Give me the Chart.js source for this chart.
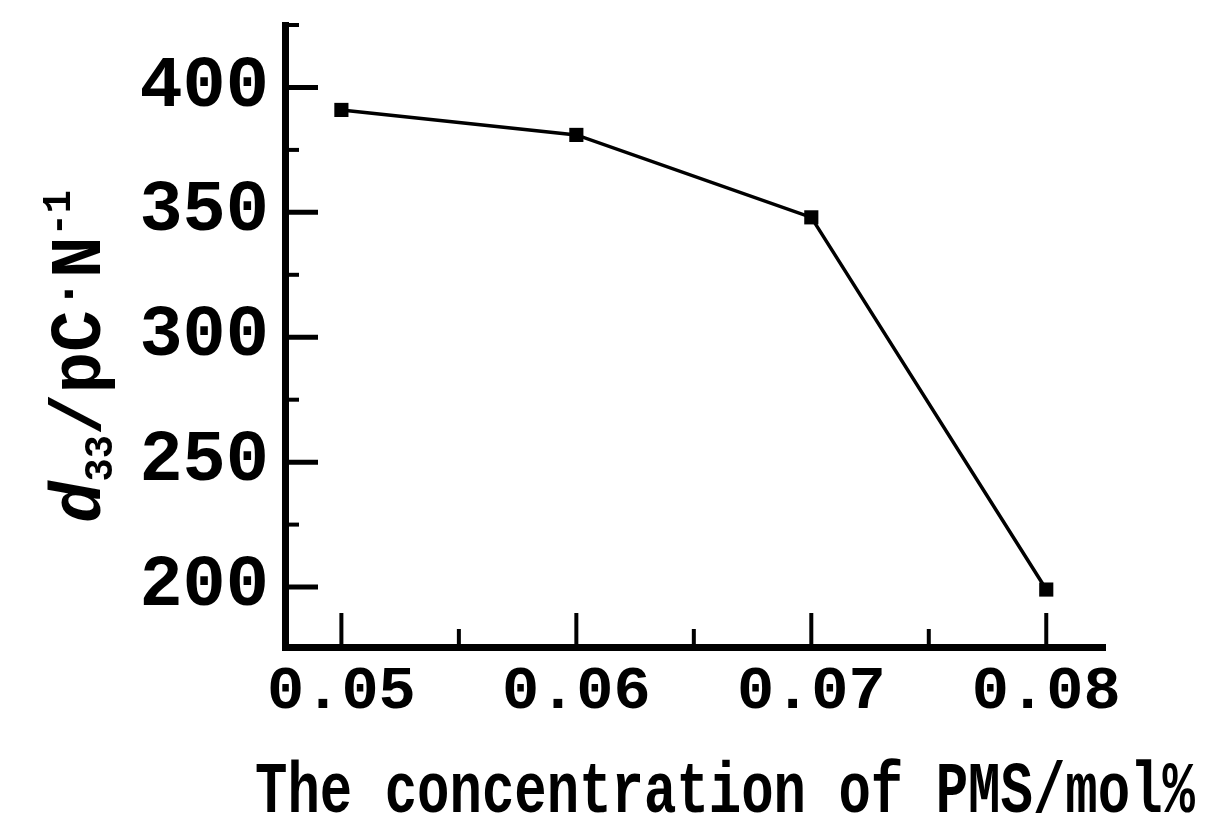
<!DOCTYPE html>
<html>
<head>
<meta charset="utf-8">
<script src="https://cdn.jsdelivr.net/npm/chart.js@4/dist/chart.umd.min.js"></script>
<style>
  html, body { margin: 0; padding: 0; background: #fff; }
  #wrap { width: 1209px; height: 837px; position: relative; }
</style>
</head>
<body>
<div id="wrap"><canvas id="c"></canvas></div>
<script>
// ---- data ----
const concentrations = [0.05, 0.06, 0.07, 0.08];
const d33Values = [391, 381, 348, 199];
const xTitle = 'The concentration of PMS/mol%';
// y title pieces: d (italic), subscript 33, /pC, dot, N, superscript -1
const yTitleParts = ['d', '33', '/pC', '\u00B7', 'N', '-1'];

const points = concentrations.map((x, i) => ({ x: x, y: d33Values[i] }));

const isMajor = (v, unit) => Math.abs(v / unit - Math.round(v / unit)) < 1e-6;
const FAM = '"Liberation Mono", "DejaVu Sans Mono", monospace';

const inwardTicks = {
  id: 'inwardTicks',
  afterDraw(chart) {
    const ctx = chart.ctx;
    const area = chart.chartArea;
    const xs = chart.scales.x, ys = chart.scales.y;
    ctx.save();
    ctx.strokeStyle = '#000';
    ctx.lineCap = 'butt';
    ys.ticks.forEach(t => {
      if (t.value < ys.min || t.value > ys.max) return;
      const p = ys.getPixelForValue(t.value);
      const major = isMajor(t.value, 50);
      ctx.lineWidth = major ? 5 : 4;
      ctx.beginPath();
      ctx.moveTo(area.left, p);
      ctx.lineTo(area.left + (major ? 33 : 14), p);
      ctx.stroke();
    });
    xs.ticks.forEach(t => {
      if (t.value < xs.min || t.value > xs.max) return;
      const p = xs.getPixelForValue(t.value);
      const major = isMajor(t.value, 0.01);
      ctx.lineWidth = 4;
      ctx.beginPath();
      ctx.moveTo(p, area.bottom);
      ctx.lineTo(p, area.bottom - (major ? 34 : 18));
      ctx.stroke();
    });
    ctx.restore();
  }
};

const axisTitles = {
  id: 'axisTitles',
  afterDraw(chart) {
    const ctx = chart.ctx;
    ctx.save();
    ctx.fillStyle = '#000';
    // x-axis title (condensed like the original typeface)
    ctx.font = 'bold 72px ' + FAM;
    ctx.textAlign = 'center';
    ctx.textBaseline = 'alphabetic';
    ctx.fillText(xTitle, 725, 812, 940);

    // y-axis title, rotated, with sub/superscripts
    const specs = [
      { font: 'italic bold 72px ' + FAM, dy: 0 },
      { font: 'bold 40px ' + FAM, dy: 12 },
      { font: 'bold 72px ' + FAM, dy: 0 },
      { font: 'bold 56px ' + FAM, dy: -16 },
      { font: 'bold 72px ' + FAM, dy: 0 },
      { font: 'bold 40px ' + FAM, dy: -30 }
    ];
    ctx.textAlign = 'left';
    let total = 0;
    const widths = yTitleParts.map((t, i) => {
      ctx.font = specs[i].font;
      const w = ctx.measureText(t).width;
      total += w;
      return w;
    });
    const k = 333 / total;
    ctx.translate(100, 523);
    ctx.rotate(-Math.PI / 2);
    ctx.scale(k, 1);
    let x = 0;
    yTitleParts.forEach((t, i) => {
      ctx.font = specs[i].font;
      ctx.fillText(t, x, specs[i].dy);
      x += widths[i];
    });
    ctx.restore();
  }
};

new Chart(document.getElementById('c'), {
  type: 'line',
  data: {
    datasets: [{
      data: points,
      borderColor: '#000',
      borderWidth: 3.5,
      backgroundColor: '#000',
      pointStyle: 'rect',
      pointRadius: 10,
      pointBackgroundColor: '#000',
      pointBorderWidth: 0,
      tension: 0,
      fill: false
    }]
  },
  options: {
    responsive: true,
    maintainAspectRatio: false,
    animation: false,
    events: [],
    layout: { padding: { top: 25, right: 104, left: 0, bottom: 0 } },
    plugins: { legend: { display: false }, tooltip: { enabled: false } },
    scales: {
      x: {
        type: 'linear',
        min: 0.0476,
        max: 0.0825,
        afterFit: s => { s.height = 190; s.paddingLeft = 0; s.paddingRight = 0; },
        border: { display: true, color: '#000', width: 7 },
        grid: { display: true, drawOnChartArea: false, drawTicks: false },
        ticks: {
          stepSize: 0.005,
          includeBounds: false,
          autoSkip: false,
          maxRotation: 0,
          padding: 8,
          color: '#000',
          font: { family: FAM, weight: 'bold', size: 62 },
          callback: v => isMajor(v, 0.01) ? v.toFixed(2) : ''
        },
        title: { display: false }
      },
      y: {
        type: 'linear',
        min: 176,
        max: 425,
        afterFit: s => { s.width = 285; s.paddingTop = 0; s.paddingBottom = 0; },
        border: { display: true, color: '#000', width: 7 },
        grid: { display: true, drawOnChartArea: false, drawTicks: false },
        ticks: {
          stepSize: 25,
          includeBounds: false,
          autoSkip: false,
          padding: 16,
          color: '#000',
          font: { family: FAM, weight: 'bold', size: 72 },
          callback: v => (isMajor(v, 50) && v <= 400) ? String(v) : ''
        },
        title: { display: false }
      }
    }
  },
  plugins: [inwardTicks, axisTitles]
});
</script>
</body>
</html>
